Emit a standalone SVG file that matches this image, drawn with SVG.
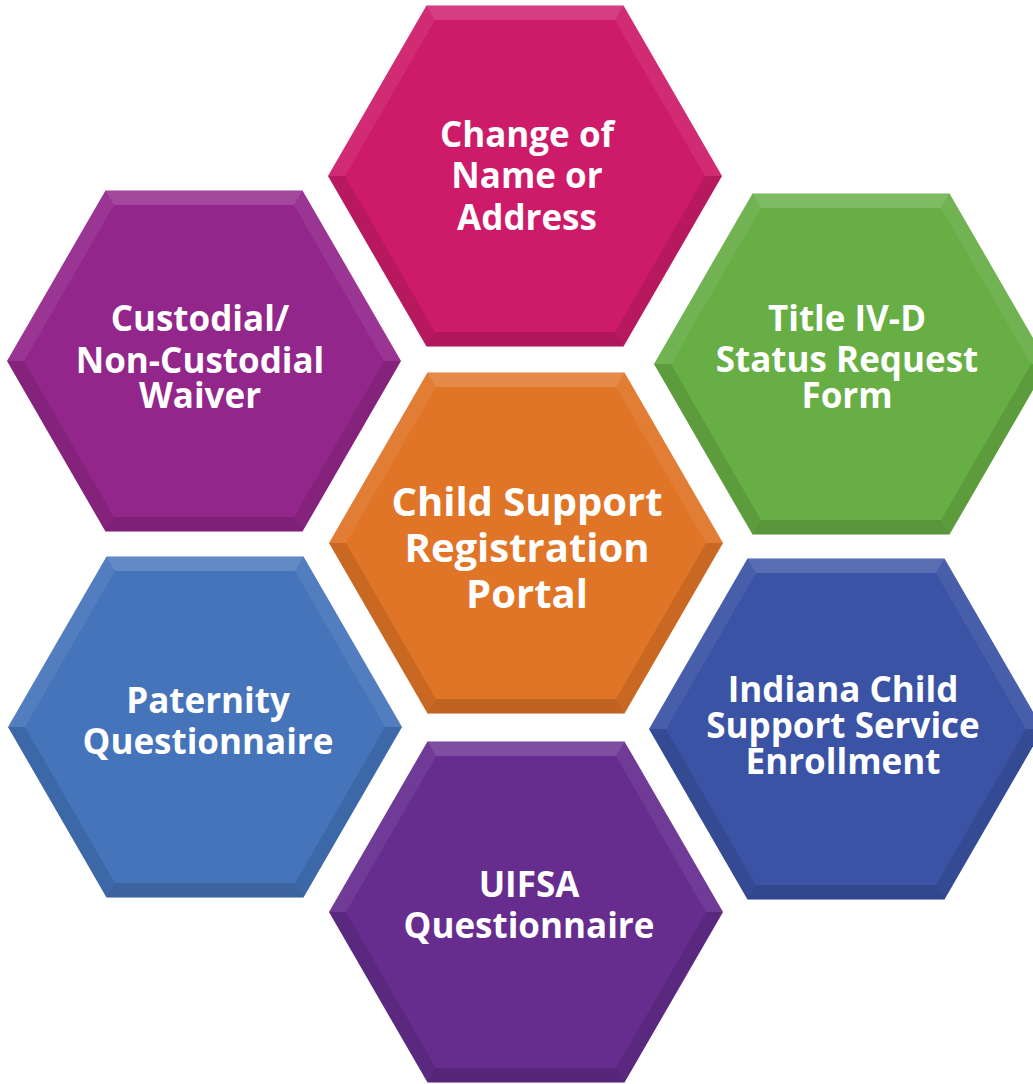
<svg xmlns="http://www.w3.org/2000/svg" xmlns:xlink="http://www.w3.org/1999/xlink" width="1033" height="1084" viewBox="0 0 1033 1084">
  <style>
    .lbl { font-family: "Open Sans", "Liberation Sans", sans-serif; font-weight: bold; fill: #ffffff; text-anchor: middle; font-size: 35px; }
    .big { font-size: 40px; }
    .hl1 { fill: #ffffff; fill-opacity: 0.16; }
    .hl2 { fill: #ffffff; fill-opacity: 0.07; }
    .sh1 { fill: #000000; fill-opacity: 0.10; }
    .sh2 { fill: #000000; fill-opacity: 0.14; }
  </style>
  <defs>
    <polygon id="hex" points="197,0 98.5,170.6 -98.5,170.6 -197,0 -98.5,-170.6 98.5,-170.6"/>
    <g id="bevel">
      <polygon class="hl1" points="-98.5,-170.6 98.5,-170.6 90,-155.9 -90,-155.9"/>
      <polygon class="hl2" points="98.5,-170.6 197,0 180,0 90,-155.9"/>
      <polygon class="hl2" points="-197,0 -98.5,-170.6 -90,-155.9 -180,0"/>
      <polygon class="sh1" points="197,0 98.5,170.6 90,155.9 180,0"/>
      <polygon class="sh1" points="-197,0 -180,0 -90,155.9 -98.5,170.6"/>
      <polygon class="sh2" points="-98.5,170.6 98.5,170.6 90,155.9 -90,155.9"/>
    </g>
  </defs>
  <rect width="1033" height="1084" fill="#ffffff"/>

  <g id="node-change-name">
    <g transform="translate(525,176)">
      <use href="#hex" fill="#CD1B69"/>
      <use href="#bevel"/>
    </g>
    <text class="lbl" x="527" y="147">Change of</text>
    <text class="lbl" x="527" y="188">Name or</text>
    <text class="lbl" x="527" y="230">Address</text>
  </g>

  <g id="node-custodial">
    <g transform="translate(204,361)">
      <use href="#hex" fill="#93268B"/>
      <use href="#bevel"/>
    </g>
    <text class="lbl" x="200" y="331">Custodial/</text>
    <text class="lbl" x="200" y="373">Non-Custodial</text>
    <text class="lbl" x="200" y="408">Waiver</text>
  </g>

  <g id="node-title-ivd">
    <g transform="translate(851,364)">
      <use href="#hex" fill="#67AE45"/>
      <use href="#bevel"/>
    </g>
    <text class="lbl" x="847" y="331">Title IV-D</text>
    <text class="lbl" x="847" y="372">Status Request</text>
    <text class="lbl" x="847" y="408">Form</text>
  </g>

  <g id="node-portal">
    <g transform="translate(526,543)">
      <use href="#hex" fill="#E07427"/>
      <use href="#bevel"/>
    </g>
    <text class="lbl big" x="527" y="516">Child Support</text>
    <text class="lbl big" x="527" y="562">Registration</text>
    <text class="lbl big" x="527" y="608">Portal</text>
  </g>

  <g id="node-paternity">
    <g transform="translate(205,727)">
      <use href="#hex" fill="#4574BA"/>
      <use href="#bevel"/>
    </g>
    <text class="lbl" x="208" y="713">Paternity</text>
    <text class="lbl" x="208" y="754">Questionnaire</text>
  </g>

  <g id="node-enrollment">
    <g transform="translate(846,729)">
      <use href="#hex" fill="#3A53A4"/>
      <use href="#bevel"/>
    </g>
    <text class="lbl" x="843" y="702">Indiana Child</text>
    <text class="lbl" x="843" y="738">Support Service</text>
    <text class="lbl" x="843" y="774">Enrollment</text>
  </g>

  <g id="node-uifsa">
    <g transform="translate(526,912)">
      <use href="#hex" fill="#662D8E"/>
      <use href="#bevel"/>
    </g>
    <text class="lbl" x="529" y="897">UIFSA</text>
    <text class="lbl" x="529" y="938">Questionnaire</text>
  </g>
</svg>
